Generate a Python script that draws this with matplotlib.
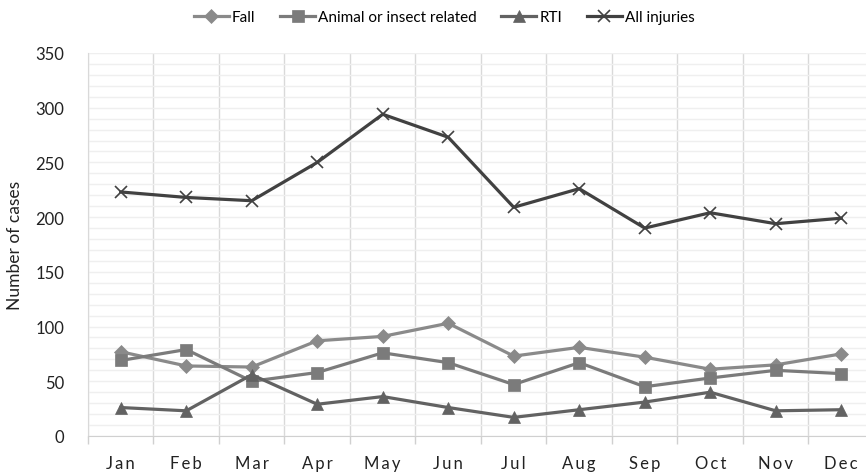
import matplotlib.pyplot as plt
from matplotlib.ticker import MultipleLocator, FixedLocator

plt.rcParams['font.family'] = ['Lato', 'DejaVu Sans']

months = ["Jan", "Feb", "Mar", "Apr", "May", "Jun",
          "Jul", "Aug", "Sep", "Oct", "Nov", "Dec"]
fall = [77, 64, 63, 87, 91, 103, 73, 81, 72, 61, 65, 75]
animal = [69, 79, 50, 58, 76, 67, 47, 67, 45, 53, 60, 57]
rti = [26, 23, 56, 29, 36, 26, 17, 24, 31, 40, 23, 24]
all_injuries = [223, 218, 215, 250, 294, 273, 209, 226, 190, 204, 194, 199]

series = [
    ("Fall", fall, "#8a8a8a", "D", 7),
    ("Animal or insect related", animal, "#7b7b7b", "s", 9),
    ("RTI", rti, "#626262", "^", 8.5),
    ("All injuries", all_injuries, "#414141", "x", 9),
]

fig = plt.figure(figsize=(8.66, 4.77), dpi=100)
ax = fig.add_axes([0.1016, 0.0839, 0.9076, 0.8029])

x = list(range(len(months)))
for name, vals, col, mk, ms in series:
    ax.plot(x, vals, color=col, linewidth=2.3, marker=mk, markersize=ms,
            markeredgewidth=1.2 if mk == "x" else 0.5, markeredgecolor=col,
            markerfacecolor=col, label=name, zorder=3)

ax.set_xlim(-0.5, 11.5)
ax.set_ylim(0, 350)

# spaced-out month labels
ax.set_xticks(x)
ax.set_xticklabels(["\u2009".join(m) for m in months])
ax.xaxis.set_minor_locator(FixedLocator([i + 0.5 for i in range(-1, 12)]))
ax.yaxis.set_major_locator(MultipleLocator(50))
ax.yaxis.set_minor_locator(MultipleLocator(10))

ax.tick_params(axis='x', which='major', length=0, pad=14, labelsize=12, colors='#222222')
ax.tick_params(axis='x', which='minor', length=6, width=1, color='#d0d0d0')
ax.tick_params(axis='y', which='both', length=0, pad=17, labelsize=12, colors='#222222')

ax.grid(axis='x', which='minor', color='#d9d9d9', linewidth=1)
ax.grid(axis='y', which='both', color='#efefef', linewidth=1)
ax.set_axisbelow(True)

for side in ['top', 'right']:
    ax.spines[side].set_visible(False)
ax.spines['left'].set_color('#d9d9d9')
ax.spines['bottom'].set_color('#d0d0d0')

ax.set_ylabel("Number of cases", fontsize=12.5, color='#222222', labelpad=9)

fig.legend(loc='upper center', bbox_to_anchor=(0.513, 1.005), ncol=4, frameon=False,
           fontsize=11, handlelength=2.3, columnspacing=1.6, handletextpad=0.2)

fig.savefig("out.png", dpi=100)
